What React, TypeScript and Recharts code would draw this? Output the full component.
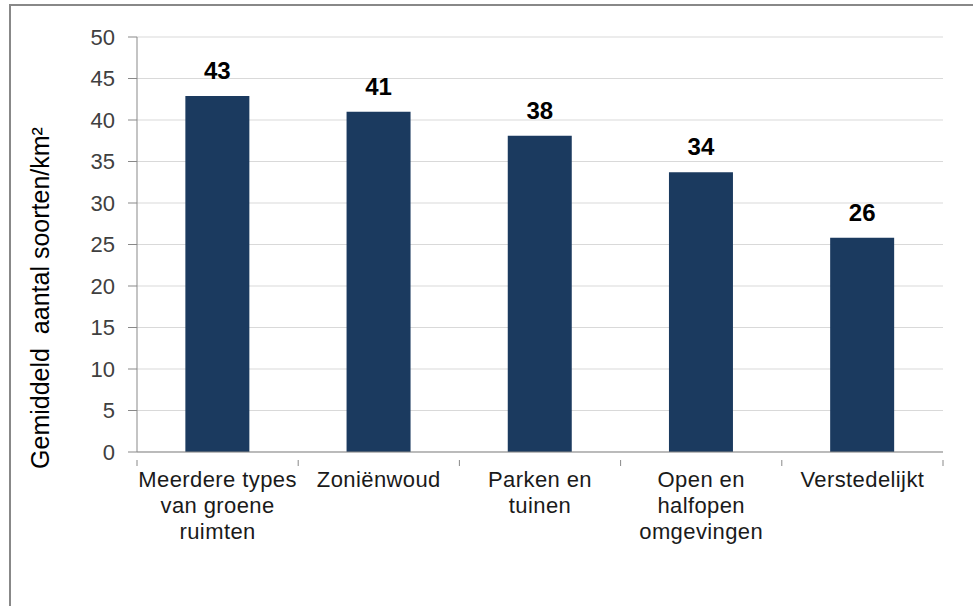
import { BarChart, Bar, XAxis, YAxis, CartesianGrid, LabelList } from 'recharts';

const categories = [
  'Meerdere types\nvan groene\nruimten',
  'Zoniënwoud',
  'Parken en\ntuinen',
  'Open en\nhalfopen\nomgevingen',
  'Verstedelijkt',
];
const values = [42.9, 41.0, 38.1, 33.7, 25.8];
const yTicks = [0, 5, 10, 15, 20, 25, 30, 35, 40, 45, 50];
const yTitle = 'Gemiddeld\u00a0\u00a0aantal soorten/km²';

const data = categories.map((name, i) => ({ name, value: values[i] }));

const FONT = '"Liberation Sans", Arial, sans-serif';
const AXIS = '#898989';

const CategoryTick = (props: any) => {
  const { x, y, payload, index, width } = props;
  const half = payload.offset ?? width / categories.length / 2;
  const lines = String(payload.value).split('\n');
  return (
    <g>
      <line x1={x - half} x2={x - half} y1={y} y2={y + 6} stroke={AXIS} />
      {index === categories.length - 1 && (
        <line x1={x + half} x2={x + half} y1={y} y2={y + 6} stroke={AXIS} />
      )}
      <text x={x} y={y + 27} textAnchor="middle" fontFamily={FONT} fontSize={22} letterSpacing={0.4} fill="#1a1a1a">
        {lines.map((l, i) => (
          <tspan key={i} x={x} dy={i === 0 ? 0 : 26}>{l}</tspan>
        ))}
      </text>
    </g>
  );
};

const YTitle = () => (
  <text
    x={40}
    y={298}
    transform="rotate(-90, 40, 298)"
    textAnchor="middle"
    dominantBaseline="central"
    fontFamily={FONT}
    fontSize={25}
    fill="#000"
  >
    {yTitle}
  </text>
);

export default function App() {
  return (
    <div style={{ position: 'fixed', left: 0, top: 0, width: 973, height: 606, overflow: 'hidden', background: '#fff' }}>
      <div style={{ position: 'absolute', left: 9, top: 4, width: 1000, height: 700, border: '2px solid #888' }} />
      <div style={{ position: 'absolute', left: 0, top: 0 }}>
        <BarChart width={973} height={606} data={data} margin={{ top: 37, right: 30, bottom: 0, left: 0 }} barCategoryGap="30%">
          <CartesianGrid vertical={false} stroke="#d9d9d9" />
          <XAxis
            dataKey="name"
            height={154}
            stroke={AXIS}
            tickLine={false}
            interval={0}
            tick={<CategoryTick />}
          />
          <YAxis
            width={137}
            domain={[0, 50]}
            ticks={yTicks}
            stroke={AXIS}
            tickSize={9}
            tickMargin={13}
            tick={{ fontFamily: FONT, fontSize: 22, fill: '#404040' }}
            label={<YTitle />}
          />
          <Bar dataKey="value" fill="#1b3a5f" isAnimationActive={false}>
            <LabelList
              dataKey="value"
              position="top"
              offset={17}
              formatter={(v: any) => Math.round(Number(v))}
              style={{ fontFamily: FONT, fontSize: 24, fontWeight: 'bold', fill: '#000' }}
            />
          </Bar>
        </BarChart>
      </div>
    </div>
  );
}
